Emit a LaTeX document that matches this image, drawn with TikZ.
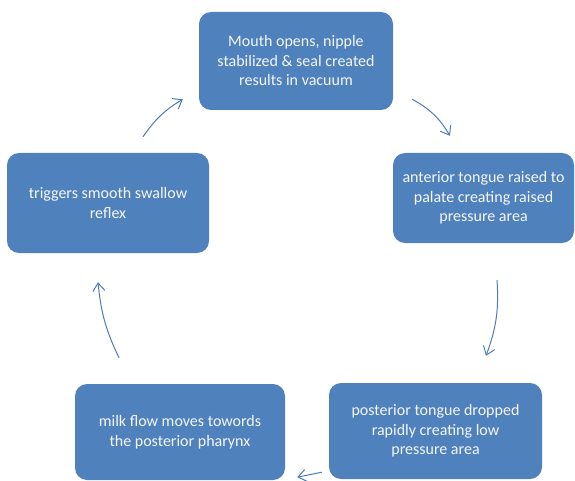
\documentclass[tikz,border=0pt]{standalone}
\usepackage{fontspec}
\setmainfont{Carlito}
\usetikzlibrary{arrows.meta}
\definecolor{boxblue}{HTML}{4F81BD}
\definecolor{arrowblue}{HTML}{4A7EBB}

\begin{document}
\begin{tikzpicture}[x=1pt,y=1pt,
        stage/.style={rectangle, rounded corners=12pt, fill=boxblue, text=white!94!boxblue,
            align=center, inner sep=0pt, font=\fontsize{16}{19.5}\selectfont},
        cyc/.style={-{Straight Barb[length=8pt,width=12pt]}, draw=arrowblue, line width=1pt}]
        \useasboundingbox (0,0) rectangle (575,480);
        % stages of the suck cycle
        \node[stage, minimum width=194pt, minimum height=98pt]  (m1) at (296,419)   {Mouth opens, nipple\\stabilized \& seal created\\results in vacuum};
        \node[stage, minimum width=181pt, minimum height=90pt]  (m2) at (483.5,282) {anterior tongue raised to\\palate creating raised\\pressure area};
        \node[stage, minimum width=213pt, minimum height=96pt]  (m3) at (435.5,49)  {posterior tongue dropped\\rapidly creating low\\pressure area};
        \node[stage, minimum width=210pt, minimum height=96pt]  (m4) at (180,48)    {milk flow moves towords\\the posterior pharynx};
        \node[stage, minimum width=202pt, minimum height=100pt] (m5) at (108,277)   {triggers smooth swallow\\reflex};
        % arrows
        \draw[cyc] ([shift={(35pt,16pt)}]m5.north) to[bend left=12] ([shift={(-16pt,11pt)}]m1.south west);
        \draw[cyc] ([shift={(19pt,11pt)}]m1.south east) to[bend left=15] ([shift={(-33.5pt,17pt)}]m2.north);
        \draw[cyc] ([shift={(13.5pt,-37pt)}]m2.south) to[bend left=12] ([shift={(50.5pt,27pt)}]m3.north);
        \draw[cyc] ([shift={(-7pt,7pt)}]m3.south west) -- ([shift={(12pt,3pt)}]m4.south east);
        \draw[cyc] ([shift={(-61pt,26pt)}]m4.north) to[bend left=10] ([shift={(-10pt,-29pt)}]m5.south);
\end{tikzpicture}
\end{document}
